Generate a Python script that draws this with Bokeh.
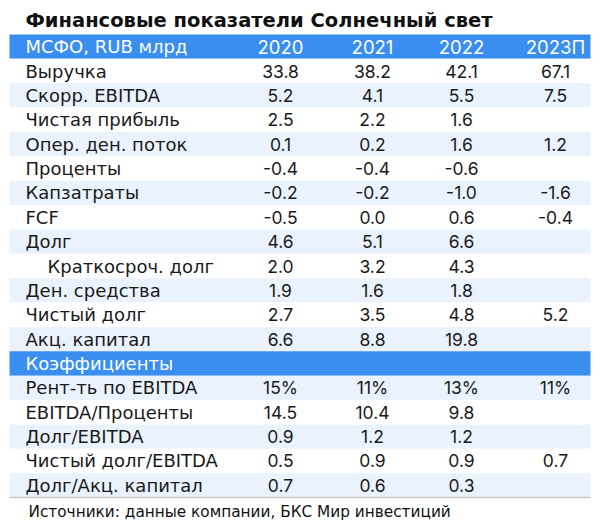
from bokeh.plotting import figure
from bokeh.models import ColumnDataSource, Range1d
from bokeh.core.properties import value
from bokeh.embed import file_html
from bokeh.resources import INLINE

title = "Финансовые показатели Солнечный свет"
header_label = "МСФО, RUB млрд"
years = ["2020", "2021", "2022", "2023П"]
section2_label = "Коэффициенты"
source_note = "Источники: данные компании, БКС Мир инвестиций"

labels1 = ["Выручка", "Скорр. EBITDA", "Чистая прибыль", "Опер. ден. поток", "Проценты",
           "Капзатраты", "FCF", "Долг", "Краткосроч. долг", "Ден. средства",
           "Чистый долг", "Акц. капитал"]
indented1 = [False, False, False, False, False, False, False, False, True, False, False, False]
v2020_1 = [33.8, 5.2, 2.5, 0.1, -0.4, -0.2, -0.5, 4.6, 2.0, 1.9, 2.7, 6.6]
v2021_1 = [38.2, 4.1, 2.2, 0.2, -0.4, -0.2, 0.0, 5.1, 3.2, 1.6, 3.5, 8.8]
v2022_1 = [42.1, 5.5, 1.6, 1.6, -0.6, -1.0, 0.6, 6.6, 4.3, 1.8, 4.8, 19.8]
v2023_1 = [67.1, 7.5, None, 1.2, None, -1.6, -0.4, None, None, None, 5.2, None]

labels2 = ["Рент-ть по EBITDA", "EBITDA/Проценты", "Долг/EBITDA", "Чистый долг/EBITDA",
           "Долг/Акц. капитал"]
pct2 = [True, False, False, False, False]
v2020_2 = [15, 14.5, 0.9, 0.5, 0.7]
v2021_2 = [11, 10.4, 1.2, 0.9, 0.6]
v2022_2 = [13, 9.8, 1.2, 0.9, 0.3]
v2023_2 = [11, None, None, 0.7, None]

BLUE = "#3a8ef0"
LIGHT = "#eaf3fd"
LABEL_FONT = value("DejaVu Sans")
NUM_FONT = value("Inter")

# geometry (x in page pixels, y in row units)
X0, X1 = 9, 590
LABEL_X = 25
INDENT = 22
COL_X = [280, 372, 461, 555]
PITCH = 24.37
TOP = 34

W, H = 600, 528
p = figure(width=W, height=H, output_backend="svg", toolbar_location=None,
           x_range=Range1d(0, W),
           y_range=Range1d((H - TOP) / PITCH, (0 - TOP) / PITCH),
           min_border=0)
p.axis.visible = False
p.grid.visible = False
p.outline_line_color = None
p.background_fill_color = "white"
p.border_fill_color = "white"

def fmt(v, pct=False):
    if v is None:
        return ""
    if pct:
        return f"{v:.0f}%"
    return f"{v:.1f}"

rows = []  # (label, indented, values, kind, shaded)
rows.append((header_label, False, years, "header", False))
for k, lab in enumerate(labels1):
    vals = [fmt(v2020_1[k]), fmt(v2021_1[k]), fmt(v2022_1[k]), fmt(v2023_1[k])]
    rows.append((lab, indented1[k], vals, "body", k % 2 == 1))
rows.append((section2_label, False, ["", "", "", ""], "header", False))
for k, lab in enumerate(labels2):
    vals = [fmt(v2020_2[k], pct2[k]), fmt(v2021_2[k], pct2[k]),
            fmt(v2022_2[k], pct2[k]), fmt(v2023_2[k], pct2[k])]
    rows.append((lab, False, vals, "body", k % 2 == 0))

# backgrounds
bg_top, bg_bot, bg_col = [], [], []
for i, r in enumerate(rows):
    if r[3] == "header":
        bg_col.append(BLUE)
    elif r[4]:
        bg_col.append(LIGHT)
    else:
        bg_col.append("white")
    bg_top.append(i)
    bg_bot.append(i + 1)
p.quad(left=X0, right=X1, top=bg_top, bottom=bg_bot, fill_color=bg_col, line_color=None)

# bottom rule
n = len(rows)
p.segment(x0=[X0], x1=[X1], y0=[n], y1=[n], line_color="#c8c8c8", line_width=1.5)

# texts
lx, ly, lt, lc = [], [], [], []
vx, vy, vt, vc = [], [], [], []
hx, hy, ht = [], [], []
for i, (lab, ind, vals, kind, sh) in enumerate(rows):
    col = "white" if kind == "header" else "#1a1a1a"
    lx.append(LABEL_X + (INDENT if ind else 0))
    ly.append(i + 0.5)
    lt.append(lab)
    lc.append(col)
    for j, v in enumerate(vals):
        if not v:
            continue
        if kind == "header":
            hx.append(COL_X[j]); hy.append(i + 0.5); ht.append(v)
        else:
            vx.append(COL_X[j]); vy.append(i + 0.5); vt.append(v); vc.append(col)

p.text(x="x", y="y", text="t", text_color="c",
       source=ColumnDataSource(dict(x=lx, y=ly, t=lt, c=lc)),
       text_font=LABEL_FONT, text_font_size="18px", text_baseline="middle", text_align="left")
p.text(x="x", y="y", text="t", text_color="c",
       source=ColumnDataSource(dict(x=vx, y=vy, t=vt, c=vc)),
       text_font=NUM_FONT, text_font_size="17.5px", text_baseline="middle", text_align="center")
p.text(x="x", y="y", text="t", text_color="white",
       source=ColumnDataSource(dict(x=hx, y=hy, t=ht)),
       text_font=NUM_FONT, text_font_size="18.5px", text_baseline="middle", text_align="center")

# title and source
p.text(x=[LABEL_X], y=[(20 - TOP) / PITCH], text=[title], text_font=LABEL_FONT,
       text_font_size="19.5px", text_font_style="bold", text_color="#111111",
       text_baseline="middle", text_align="left")
p.text(x=[28], y=[(511 - TOP) / PITCH], text=[source_note], text_font=LABEL_FONT,
       text_font_size="15.3px", text_color="#111111",
       text_baseline="middle", text_align="left")

open("out.html", "w").write(file_html(p, INLINE))
